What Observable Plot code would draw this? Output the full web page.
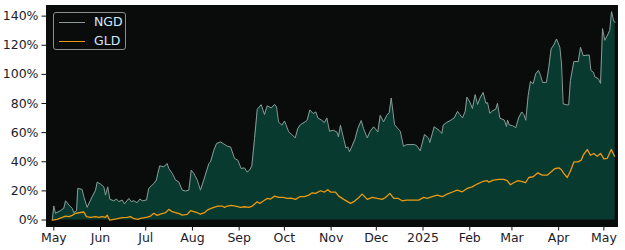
<!DOCTYPE html>
<html>
<head>
<meta charset="utf-8">
<script src="https://cdn.jsdelivr.net/npm/d3@7"></script>
<script src="https://cdn.jsdelivr.net/npm/@observablehq/plot@0.6"></script>
<style>
  html, body { margin: 0; padding: 0; background: #ffffff; }
  #wrap { position: relative; width: 625px; height: 250px; overflow: hidden; }
  #legend {
    position: absolute; left: 53px; top: 12px; width: 71px; height: 36px;
    border: 1px solid #8c8c8c; border-radius: 3px; background: #0a0c0b;
    font-family: "DejaVu Sans", sans-serif; font-size: 12.5px; color: #d4e8ff;
  }
  .row { position: absolute; left: 0; height: 14px; width: 71px; }
  .sw { position: absolute; left: 5px; width: 26px; top: 7px; height: 0; border-top: 1.2px solid; }
  .lbl { position: absolute; left: 40px; top: -1px; line-height: 16px; }
</style>
</head>
<body>
<div id="wrap"></div>
<script>
// ---- data ----
const startDate = "2024-05-01";           // day 0
const seriesNames = ["NGD", "GLD"];
const seriesColors = ["#8a9a96", "#ea9a12"];

// NGD: day offset from startDate, cumulative return %
const ngdDays = [
  -1,0,1.1,4.4,6.6,7.8,10,12.2,13.3,15.1,
  15.9,18.8,19.9,22.1,24.4,27.7,28.8,31,33.2,34.3,
  35.8,37.2,39.8,41.6,43.1,45.4,46.9,49.8,51.4,53.1,
  55.3,57.1,58.7,61.5,63,66.4,68.1,69,70.3,73,
  75.2,76.3,78.6,80.8,82.9,85.2,87.4,89.6,91.2,92.9,
  95.2,97.3,99.5,102.9,104,106.2,108,110.6,112.4,115.1,
  117.3,119.9,122.1,124.3,126.5,128.3,129.9,131.4,133.2,135,
  137.6,139.8,141.6,144.3,146.5,147.8,149.1,151.3,153.1,154.2,
  155.9,157.9,160.2,161.9,163.7,166.8,168.1,169.9,172.1,173.9,
  175.2,177.8,179.6,181.2,182.9,185.6,187.8,188.9,190.2,192.2,
  193.8,195.1,196.2,197.7,200,201.7,204,205.5,208,210,
  212.3,215,216.6,218.8,221,222.6,223.9,226.1,228.7,229.9,
  232,234.2,239.3,240.9,243.1,246,248.6,249.5,252.4,255.7,
  257.5,258.4,260.6,263.4,265.7,267.9,269.4,271.2,273,274.1,
  276.1,277.8,279.6,281.2,282.7,284.9,286.7,287.8,289.3,291.1,
  293.3,294.4,296,298.9,300.4,301.1,302.2,304.4,306.6,308.4,
  310.5,311.9,313.2,314.8,316.3,318.1,319.8,321.6,323,324.3,
  326.9,328.5,330,331.8,333.6,335.8,336.9,338,340.2,341.7,
  342.8,345.1,348,349.5,351.3,355.3,356.4,358,359.1,361.3,
  362.8,364.1,365.6,367.2,368.9,370.1,371.6,372.5
];
const ngdPct = [
  0,9.6,4.6,6.4,8.0,13.2,10.3,8.0,5.0,6.4,
  21.7,21.0,16.0,8.7,13.7,20.5,26.0,24.7,22.8,17.1,
  22.8,14.2,13.2,14.4,12.6,13.7,11.0,14.8,12.6,13.2,
  11.9,14.4,13.2,13.7,21.7,25.1,27.4,32,37.2,36.5,
  38.8,35.4,32,27.4,26.2,20.5,19.9,20.5,34.3,32,
  27.4,20.5,27.4,38.8,39.9,47.9,52.5,53.6,52.5,50.7,
  50.2,42.3,41.1,35.4,35.8,32.9,34.3,37,55.9,76,
  79.2,72.4,78.4,76.9,79.4,77.6,67.4,65.1,68,65.1,
  60.5,58.7,56.4,62.8,65.5,67.4,68.5,75.6,73.1,74.2,
  70.1,68.5,66.9,70.1,61,61.6,60.5,57.1,65.1,56.4,
  49.5,50.2,46.8,50.2,55.9,62.8,68.3,62.8,56.4,61,
  64,60.5,71.9,67.4,71.9,73.8,83.8,65.5,62.3,61,
  50.6,51.8,51.8,51,47.5,58.7,56.4,53.2,64,61.6,
  59.4,65.1,66.9,68.5,70.1,74.6,72.4,70.1,74.6,84.4,
  81,76.5,86.1,79.3,83.5,87.6,80.1,80.6,73.3,74.9,
  76.1,80.1,69.9,68.7,64.2,68.7,65.3,64.8,63.4,70.1,
  74.2,72.4,68.5,85.6,95.2,93.6,100.4,102.7,99.3,94.5,
  94.5,105,117.5,120.2,124.3,118.6,107.2,79.8,79.1,79.1,
  95.8,108.8,108.8,118.6,112.9,113.3,102.7,101.5,98.2,97.1,
  93.8,131.4,123.4,126.4,130.2,143.1,136.3,135.8
];

// GLD
const gldDays = [
  -1,2.2,5.6,7.8,10,12.2,14.4,16.6,19.9,21.7,
  24.4,27.7,29.9,32.1,34.3,35.4,37,39.8,43.1,45.4,
  48.7,50.9,53.1,55.7,57.5,61.5,64.2,66.4,68.6,70.8,
  74.1,76.3,78.6,80.8,82.9,85.2,88.5,90.7,92.9,95.2,
  97.3,100,101.8,104.4,106.2,108.8,111.7,113.3,115.1,117.7,
  120.6,123.9,126.5,129.4,131.7,135,136.7,139.3,141.6,143.8,
  146.5,149.3,152.2,154.9,157.5,160.4,163.2,166.4,169.2,171.5,
  173.7,177,179.6,181.8,183.6,186.9,189.1,192.4,196.9,199.1,
  202.4,204.6,208,211.3,214.6,217.9,220.1,223,225.6,228.5,
  231.2,234,237.8,242.2,245.5,247.8,251.1,254.4,257.7,261,
  265,267.7,271,274.3,277.6,280.9,284.3,287.6,288.7,291.6,
  295.3,298.6,300.8,303,305.2,307.9,310.8,313,315.2,318.1,
  321.2,324.1,327.4,330.1,332.3,335.1,336.7,338.4,340.7,342.9,
  345.1,347.8,350,351.3,354,356.1,358.3,360.6,362.8,365,
  367.2,369.9,372.1
];
const gldPct = [
  0,0.5,1.8,2.7,2.3,3.2,4.6,5.0,5.5,2.3,
  1.8,2.3,1.8,2.3,1.8,3.4,0,0.5,1.1,1.6,
  1.8,2.3,0.9,0.5,1.1,1.8,2.7,4.6,3.2,4.1,
  5.0,7.3,5.7,5.0,4.6,3.4,3.9,6.4,5.7,5.0,
  4.1,5.0,6.8,8.0,8.7,9.6,9.6,8.7,9.6,10.0,
  9.6,8.7,9.1,8.7,9.6,12.6,11.4,13.2,14.8,14.4,
  16.4,15.5,15.5,14.8,15.1,14.2,16.0,16.0,17.1,18.7,
  18.3,20.1,19.2,20.8,19.2,19.2,16.4,14.2,11.4,12.6,
  15.5,17.8,14.2,15.5,14.8,14.2,15.5,18.3,14.8,14.8,
  13.2,13.7,13.7,13.7,15.5,14.8,16.0,17.1,16.0,17.8,
  19.4,20.5,19.4,21.7,22.8,24.7,26.3,27.0,26.0,27.4,
  27.9,27.9,27.0,24.2,25.6,27.0,26.3,25.6,29.2,29.7,
  32.4,30.8,30.8,33.1,35.2,35.8,34.7,32.0,29.2,33.8,
  39.9,39.9,41.1,44.5,48.4,44.5,45.7,43.8,45.7,42.0,
  42.3,48.4,43.8
];

// axis ticks
const xTickDates = ["2024-05-01","2024-06-01","2024-07-01","2024-08-01","2024-09-01","2024-10-01",
  "2024-11-01","2024-12-01","2025-01-01","2025-02-01","2025-03-01","2025-04-01","2025-05-01"];
const xTickLabels = ["May","Jun","Jul","Aug","Sep","Oct","Nov","Dec","2025","Feb","Mar","Apr","May"];
const yTicks = [0, 20, 40, 60, 80, 100, 120, 140];

// ---- build ----
const t0 = new Date(startDate + "T00:00:00Z").getTime();
const toDate = d => new Date(t0 + d * 864e5);
const build = (days, pct) => days.slice(0, Math.min(days.length, pct.length)).map((d, i) => ({date: toDate(d), v: pct[i]}));
const ngd = build(ngdDays, ngdPct);
const gld = build(gldDays, gldPct);

const tickDates = xTickDates.map(s => new Date(s + "T00:00:00Z"));
const labelMap = new Map(tickDates.map((d, i) => [d.getTime(), xTickLabels[i]]));

const font = "DejaVu Sans, sans-serif";
const chart = Plot.plot({
  width: 625,
  height: 250,
  marginLeft: 46,
  marginRight: 8,
  marginTop: 5,
  marginBottom: 24,
  style: {fontFamily: font, fontSize: "12.5px", color: "#1c1c2a", background: "#ffffff", overflow: "visible"},
  x: {type: "utc", domain: [toDate(-4.85), toDate(374.05)]},
  y: {domain: [-4.45, 147.3]},
  marks: [
    Plot.frame({fill: "#0a0c0b", stroke: "#0a0c0b"}),
    Plot.areaY(ngd, {x: "date", y: "v", fill: "#083a30"}),
    Plot.lineY(ngd, {x: "date", y: "v", stroke: seriesColors[0], strokeWidth: 1}),
    Plot.lineY(gld, {x: "date", y: "v", stroke: seriesColors[1], strokeWidth: 1.3}),
    Plot.axisX({ticks: tickDates, tickFormat: d => labelMap.get(d.getTime()), tickSize: 4.5, tickPadding: 2.2,
      fontSize: 12.5, label: null, stroke: "#111"}),
    Plot.axisY({ticks: yTicks, tickFormat: d => d + "%", tickSize: 4.5, tickPadding: 3.5,
      fontSize: 12.5, label: null, stroke: "#111"})
  ]
});

const wrap = document.getElementById("wrap");
wrap.appendChild(chart);

// legend
const legend = document.createElement("div");
legend.id = "legend";
const rowTops = [2, 21];
seriesNames.forEach((name, i) => {
  const row = document.createElement("div");
  row.className = "row";
  row.style.top = rowTops[i] + "px";
  const sw = document.createElement("div");
  sw.className = "sw";
  sw.style.borderTopColor = seriesColors[i];
  const lbl = document.createElement("div");
  lbl.className = "lbl";
  lbl.textContent = name;
  row.appendChild(sw);
  row.appendChild(lbl);
  legend.appendChild(row);
});
wrap.appendChild(legend);
</script>
</body>
</html>
